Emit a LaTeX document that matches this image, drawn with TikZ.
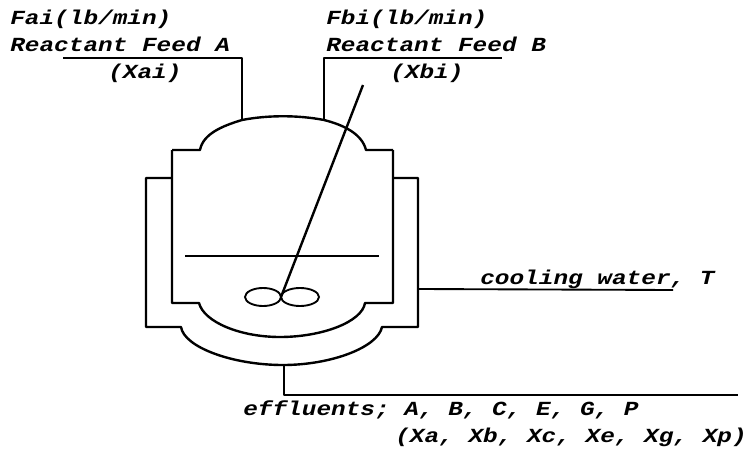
\documentclass[tikz,border=0pt]{standalone}
\usepackage{fontspec}
\setmonofont{Liberation Mono}
\tikzset{
	pipe/.style={line width=1.8pt, line join=round},
	thin pipe/.style={line width=1.4pt},
	lbl/.style={anchor=base west, inner sep=0pt, xscale=1.22, font=\ttfamily\bfseries\itshape\fontsize{15}{15}\selectfont}
}

\begin{document}
\begin{tikzpicture}[x=0.75pt, y=-0.75pt]
			%%%%% START %%%%%
			\useasboundingbox (0, 0) rectangle (747, 450);
			
			% feeds
			\draw[pipe] (63, 58) -- (242, 58) -- (242, 120);
			\draw[pipe] (324, 120) -- (324, 58) -- (502, 58);
			
			% vessel
			\draw[pipe] (172, 150) -- (200, 150) .. controls (203, 134) and (222, 126) .. (242, 120)
				.. controls (268, 115) and (298, 115) .. (324, 120)
				.. controls (344, 125) and (362, 134) .. (366, 150) -- (393, 150);
			\draw[pipe] (172, 150) -- (172, 303) -- (199, 303)
				.. controls (204, 322) and (240, 337) .. (280, 337)
				.. controls (322, 337) and (362, 322) .. (365, 303) -- (393, 303) -- (393, 150);
			
			% jacket
			\draw[pipe] (172, 178) -- (146, 178) -- (146, 327) -- (181, 327)
				.. controls (184, 347) and (232, 365) .. (283, 365)
				.. controls (332, 365) and (378, 347) .. (382, 327) -- (418, 327) -- (418, 178) -- (393, 178);
			
			% level and stirrer
			\draw[pipe] (185, 256) -- (379, 256);
			\draw[pipe] (363, 85) -- (281, 297);
			\draw[thin pipe] (263, 297) ellipse (18 and 9);
			\draw[thin pipe] (300, 297) ellipse (19 and 9);
			
			% outlets
			\draw[thin pipe] (418, 289) -- (673, 290);
			\draw[pipe] (284, 365) -- (284, 395) -- (738, 395);
			
			% labels
			\node[lbl] (fai) at (10, 24) {Fai(lb/min)};
			\node[lbl] (feeda) at (10, 51) {Reactant Feed A};
			\node[lbl] (xai) at (108, 78) {(Xai)};
			\node[lbl] (fbi) at (326, 24) {Fbi(lb/min)};
			\node[lbl] (feedb) at (326, 51) {Reactant Feed B};
			\node[lbl] (xbi) at (390, 78) {(Xbi)};
			\node[lbl] (water) at (480, 284) {cooling water, T};
			\node[lbl] (eff) at (243, 415) {effluents; A, B, C, E, G, P};
			\node[lbl] (xout) at (395, 442) {(Xa, Xb, Xc, Xe, Xg, Xp)};
			
			%%%%% END %%%%%
		\end{tikzpicture}
\end{document}
